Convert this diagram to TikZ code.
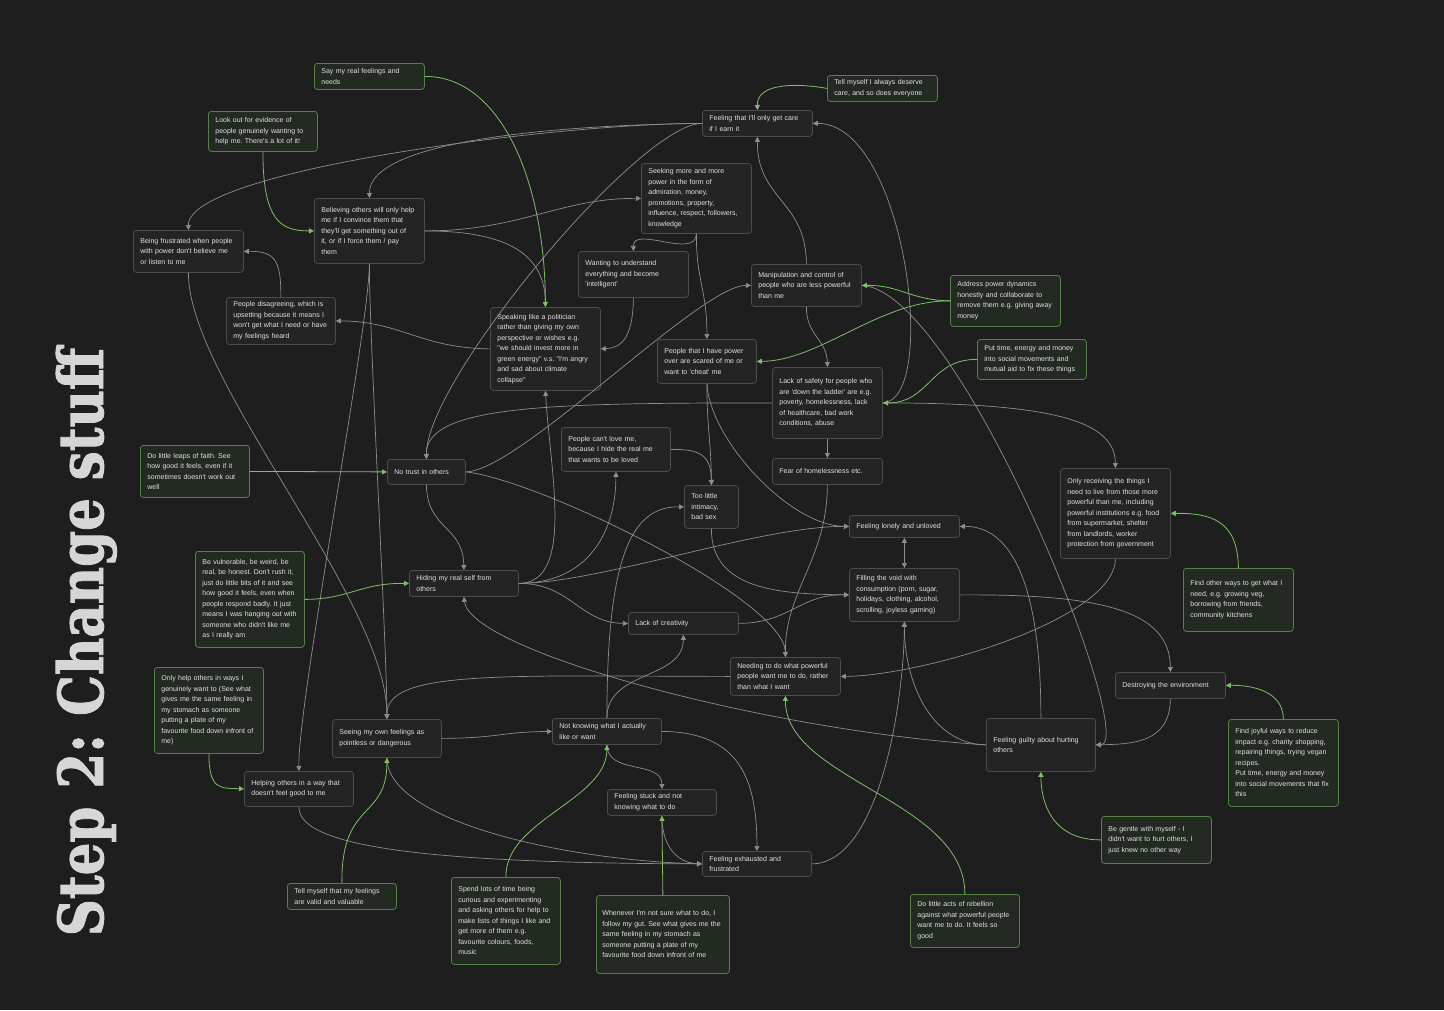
\documentclass[tikz,border=0pt]{standalone}
\usepackage{fontspec}
\setmainfont{Liberation Sans}[Ligatures=TeXOff]
\newfontfamily\titlefont{DejaVu Serif}[FakeBold=1.6]
\usetikzlibrary{arrows.meta}
\definecolor{bg}{HTML}{1E1E1E}
\definecolor{cardfill}{HTML}{242424}
\definecolor{carddraw}{HTML}{4C4C4C}
\definecolor{fixfill}{HTML}{222A21}
\definecolor{fixdraw}{HTML}{56804B}
\definecolor{fixline}{HTML}{7CC068}
\definecolor{greyline}{HTML}{8E8E8E}
\definecolor{cardtext}{HTML}{E2E2E2}
\definecolor{titletext}{HTML}{D6D6D6}
\frenchspacing

\begin{document}
\begin{tikzpicture}[x=1pt, y=-1pt, >={Triangle[length=5pt,width=5pt]},
    card/.style={draw=carddraw, fill=cardfill, rounded corners=3pt, line width=0.8pt,
      anchor=north west, align=left, inner xsep=7pt, inner ysep=0pt, text=cardtext,
      font=\fontsize{7}{10.5}\selectfont, minimum width=110pt, text width=96pt},
    fix/.style={card, draw=fixdraw, fill=fixfill},
    link/.style={->, draw=greyline, line width=0.7pt},
    fixlink/.style={->, draw=fixline, line width=0.8pt}]

  \fill[bg] (0,0) rectangle (1444,1010);
  \useasboundingbox (0,0) rectangle (1444,1010);

  \node[anchor=base, rotate=90, text=titletext] (title) at (103,642)
    {\scalebox{0.83}[1]{\titlefont\bfseries\fontsize{62}{62}\selectfont Step 2: Change stuff}};

  \node[fix, minimum height=26pt] (sayreal) at (314,63) {Say my real feelings and\\needs};
  \node[fix, minimum height=40pt, minimum width=109pt, text width=95pt] (lookout) at (208,111) {Look out for evidence of\\people genuinely wanting to\\help me. There's a lot of it!};
  \node[fix, minimum height=26pt] (deserve) at (827,75) {Tell myself I always deserve\\care, and so does everyone};
  \node[card, minimum height=26pt] (care) at (702,110) {Feeling that I'll only get care\\if I earn it};
  \node[card, minimum height=70pt] (seek) at (641,163) {Seeking more and more\\power in the form of\\admiration, money,\\promotions, property,\\influence, respect, followers,\\knowledge};
  \node[card, minimum height=65pt] (believe) at (314,198) {Believing others will only help\\me if I convince them that\\they'll get something out of\\it, or if I force them / pay\\them};
  \node[card, minimum height=42pt] (frustrated) at (133,230) {Being frustrated when people\\with power don't believe me\\or listen to me};
  \node[card, minimum height=46pt] (wanting) at (578,251) {Wanting to understand\\everything and become\\'intelligent'};
  \node[card, minimum height=42pt] (manip) at (751,264) {Manipulation and control of\\people who are less powerful\\than me};
  \node[fix, minimum height=51pt] (address) at (950,275) {Address power dynamics\\honestly and collaborate to\\remove them e.g. giving away\\money};
  \node[card, minimum height=47pt, minimum width=109pt, text width=95pt] (disagree) at (226,297) {People disagreeing, which is\\upsetting because it means I\\won't get what I need or have\\my feelings heard};
  \node[card, minimum height=83pt] (politician) at (490,307) {Speaking like a politician\\rather than giving my own\\perspective or wishes e.g.\\"we should invest more in\\green energy" v.s. "I'm angry\\and sad about climate\\collapse"};
  \node[card, minimum height=44pt, minimum width=99pt, text width=85pt] (scared) at (657,339) {People that I have power\\over are scared of me or\\want to 'cheat' me};
  \node[fix, minimum height=40pt, minimum width=109pt, text width=95pt] (puttime) at (977,339) {Put time, energy and money\\into social movements and\\mutual aid to fix these things};
  \node[card, minimum height=71pt] (safety) at (772,367) {Lack of safety for people who\\are 'down the ladder' are e.g.\\poverty, homelessness, lack\\of healthcare, bad work\\conditions, abuse};
  \node[fix, minimum height=52pt, minimum width=109pt, text width=95pt] (leaps) at (140,445) {Do little leaps of faith. See\\how good it feels, even if it\\sometimes doesn't work out\\well};
  \node[card, minimum height=25pt, minimum width=78pt, text width=64pt] (notrust) at (387,459) {No trust in others};
  \node[card, minimum height=44pt, minimum width=109pt, text width=95pt] (cantlove) at (561,427) {People can't love me,\\because I hide the real me\\that wants to be loved};
  \node[card, minimum height=26pt] (fear) at (772,458) {Fear of homelessness etc.};
  \node[card, minimum height=43pt, minimum width=54pt, text width=40pt] (intimacy) at (684,485) {Too little\\intimacy,\\bad sex};
  \node[card, minimum height=90pt] (receiving) at (1060,468) {Only receiving the things I\\need to live from those more\\powerful than me, including\\powerful institutions e.g. food\\from supermarket, shelter\\from landlords, worker\\protection from government};
  \node[card, minimum height=22pt] (lonely) at (849,515) {Feeling lonely and unloved};
  \node[fix, minimum height=96pt, minimum width=109pt, text width=95pt] (vulnerable) at (195,551) {Be vulnerable, be weird, be\\real, be honest. Don't rush it,\\just do little bits of it and see\\how good it feels, even when\\people respond badly. It just\\means I was hanging out with\\someone who didn't like me\\as I really am};
  \node[card, minimum height=26pt, minimum width=109pt, text width=95pt] (hiding) at (409,570) {Hiding my real self from\\others};
  \node[card, minimum height=53pt] (filling) at (849,568) {Filling the void with\\consumption (porn, sugar,\\holidays, clothing, alcohol,\\scrolling, joyless gaming)};
  \node[fix, minimum height=63pt] (otherways) at (1183,568) {Find other ways to get what I\\need, e.g. growing veg,\\borrowing from friends,\\community kitchens};
  \node[card, minimum height=22pt] (creativity) at (628,612) {Lack of creativity};
  \node[card, minimum height=38pt] (needing) at (730,657) {Needing to do what powerful\\people want me to do, rather\\than what I want};
  \node[fix, minimum height=86pt, minimum width=109pt, text width=95pt] (onlyhelp) at (154,667) {Only help others in ways I\\genuinely want to (See what\\gives me the same feeling in\\my stomach as someone\\putting a plate of my\\favourite food down infront of\\me)};
  \node[card, minimum height=26pt] (destroy) at (1115,672) {Destroying the environment};
  \node[card, minimum height=38pt, minimum width=109pt, text width=95pt] (seeing) at (332,719) {Seeing my own feelings as\\pointless or dangerous};
  \node[card, minimum height=26pt, minimum width=109pt, text width=95pt] (notknow) at (552,718) {Not knowing what I actually\\like or want};
  \node[card, minimum height=53pt, minimum width=109pt, text width=95pt] (guilty) at (986,718) {Feeling guilty about hurting\\others\\[4pt]{}};
  \node[fix, minimum height=87pt] (joyful) at (1228,719) {Find joyful ways to reduce\\impact e.g. charity shopping,\\repairing things, trying vegan\\recipes.\\Put time, energy and money\\into social movements that fix\\this};
  \node[card, minimum height=35pt, minimum width=109pt, text width=95pt] (helping) at (244,771) {Helping others in a way that\\doesn't feel good to me};
  \node[card, minimum height=26pt, minimum width=109pt, text width=95pt] (stuck) at (607,789) {Feeling stuck and not\\knowing what to do};
  \node[fix, minimum height=47pt] (gentle) at (1101,816) {Be gentle with myself - I\\didn't want to hurt others, I\\just knew no other way};
  \node[card, minimum height=25pt, minimum width=109pt, text width=95pt] (exhausted) at (702,851) {Feeling exhausted and\\frustrated};
  \node[fix, minimum height=26pt, minimum width=109pt, text width=95pt] (valid) at (287,883) {Tell myself that my feelings\\are valid and valuable};
  \node[fix, minimum height=87pt, minimum width=109pt, text width=95pt] (curious) at (451,877) {Spend lots of time being\\curious and experimenting\\and asking others for help to\\make lists of things I like and\\get more of them e.g.\\favourite colours, foods,\\music};
  \node[fix, minimum height=78pt, minimum width=133pt, inner xsep=6pt, text width=121pt] (gut) at (596,895) {Whenever I'm not sure what to do, I\\follow my gut. See what gives me the\\same feeling in my stomach as\\someone putting a plate of my\\favourite food down infront of me\\{}};
  \node[fix, minimum height=53pt, minimum width=109pt, text width=95pt] (rebellion) at (910,894) {Do little acts of rebellion\\against what powerful people\\want me to do. It feels so\\good};

  \draw[link] (care.west) .. controls (560,123) and (188,170) .. (frustrated.north);
  \draw[link] (care.west) .. controls (560,125) and (369,140) .. (believe.north);
  \draw[link] (care.west) .. controls (640,123) and (426,380) .. (notrust.north);
  \draw[link] (believe.east) .. controls (520,231) and (560,198) .. (seek.west);
  \draw[link] (believe.east) .. controls (500,231) and (545,250) .. (politician.north);
  \draw[link] (believe.south) .. controls (369,330) and (298,700) .. (helping.north);
  \draw[link] (believe.south) .. controls (369,330) and (387,650) .. (seeing.north);
  \draw[link] (frustrated.south) .. controls (188,380) and (387,600) .. (seeing.north);
  \draw[link] (politician.west) .. controls (420,348) and (400,321) .. (disagree.east);
  \draw[link] (disagree.north) .. controls (281,260) and (275,251) .. (frustrated.east);
  \draw[link] (seek.south) .. controls (696,260) and (633,225) .. (wanting.north);
  \draw[link] (seek.south) .. controls (696,280) and (707,290) .. (scared.north);
  \draw[link] (wanting.south) .. controls (633,340) and (620,348) .. (politician.east);
  \draw[link] (manip.north) .. controls (806,200) and (757,200) .. (care.south);
  \draw[link] (manip.south) .. controls (806,335) and (827,340) .. (safety.north);
  \draw[link] (manip.east) .. controls (960,290) and (1140,744) .. (guilty.east);
  \draw[link] (safety.east) .. controls (940,400) and (905,123) .. (care.east);
  \draw[link] (safety.east) .. controls (1050,403) and (1115,420) .. (receiving.north);
  \draw[link] (safety.west) .. controls (550,403) and (426,405) .. (notrust.north);
  \draw[link] (safety.south) -- (fear.north);
  \draw[link] (fear.south) .. controls (827,560) and (785,590) .. (needing.north);
  \draw[link] (notrust.east) .. controls (520,471) and (700,285) .. (manip.west);
  \draw[link] (notrust.east) .. controls (540,480) and (785,600) .. (needing.north);
  \draw[link] (notrust.south) .. controls (427,530) and (463,525) .. (hiding.north);
  \draw[link] (hiding.east) .. controls (575,583) and (550,470) .. (politician.south);
  \draw[link] (hiding.east) .. controls (590,583) and (616,530) .. (cantlove.south);
  \draw[link] (hiding.east) .. controls (600,583) and (760,526) .. (lonely.west);
  \draw[link] (hiding.east) .. controls (570,583) and (580,623) .. (creativity.west);
  \draw[link] (cantlove.east) .. controls (700,449) and (711,455) .. (intimacy.north);
  \draw[link] (scared.south) .. controls (707,430) and (711,440) .. (intimacy.north);
  \draw[link] (scared.south) .. controls (710,440) and (790,526) .. (lonely.west);
  \draw[link] (intimacy.south) .. controls (711,590) and (780,594) .. (filling.west);
  \draw[link] (creativity.east) .. controls (790,623) and (800,594) .. (filling.west);
  \draw[link, <->] (lonely.south) -- (filling.north);
  \draw[link] (notknow.north) .. controls (607,560) and (630,506) .. (intimacy.west);
  \draw[link] (notknow.north) .. controls (607,670) and (683,680) .. (creativity.south);
  \draw[link] (seeing.east) .. controls (500,738) and (500,732) .. (notknow.west);
  \draw[link] (notknow.south) .. controls (607,775) and (662,760) .. (stuck.north);
  \draw[link] (notknow.east) .. controls (740,732) and (757,780) .. (exhausted.north);
  \draw[link] (seeing.south) .. controls (387,820) and (560,860) .. (exhausted.west);
  \draw[link] (helping.south) .. controls (298,850) and (450,863) .. (exhausted.west);
  \draw[link] (stuck.south) .. controls (662,850) and (680,863) .. (exhausted.west);
  \draw[link] (exhausted.east) .. controls (880,863) and (904,700) .. (filling.south);
  \draw[link] (guilty.west) .. controls (930,744) and (904,680) .. (filling.south);
  \draw[link] (guilty.west) .. controls (760,730) and (470,650) .. (hiding.south);
  \draw[link] (needing.west) .. controls (500,676) and (387,670) .. (seeing.north);
  \draw[link] (receiving.south) .. controls (1115,620) and (920,676) .. (needing.east);
  \draw[link] (guilty.north) .. controls (1041,560) and (1000,526) .. (lonely.east);
  \draw[link] (filling.east) .. controls (1100,594) and (1170,610) .. (destroy.north);
  \draw[link] (destroy.south) .. controls (1170,744) and (1130,744) .. (guilty.east);

  \draw[fixlink] (sayreal.east) .. controls (500,76) and (545,180) .. (politician.north);
  \draw[fixlink] (lookout.south) .. controls (263,220) and (280,231) .. (believe.west);
  \draw[fixlink] (deserve.west) .. controls (790,82) and (757,85) .. (care.north);
  \draw[fixlink] (address.west) .. controls (910,300) and (900,285) .. (manip.east);
  \draw[fixlink] (address.west) .. controls (880,300) and (820,361) .. (scared.east);
  \draw[fixlink] (puttime.west) .. controls (930,359) and (930,403) .. (safety.east);
  \draw[fixlink] (leaps.east) -- (notrust.west);
  \draw[fixlink] (vulnerable.east) .. controls (350,599) and (360,583) .. (hiding.west);
  \draw[fixlink] (otherways.north) .. controls (1238,520) and (1210,513) .. (receiving.east);
  \draw[fixlink] (onlyhelp.south) .. controls (209,790) and (220,788) .. (helping.west);
  \draw[fixlink] (valid.north) .. controls (341,800) and (387,820) .. (seeing.south);
  \draw[fixlink] (curious.north) .. controls (505,820) and (607,800) .. (notknow.south);
  \draw[fixlink] (gut.north) -- (stuck.south);
  \draw[fixlink] (rebellion.north) .. controls (965,800) and (785,780) .. (needing.south);
  \draw[fixlink] (gentle.west) .. controls (1050,840) and (1041,800) .. (guilty.south);
  \draw[fixlink] (joyful.north) .. controls (1283,690) and (1250,685) .. (destroy.east);
\end{tikzpicture}
\end{document}
